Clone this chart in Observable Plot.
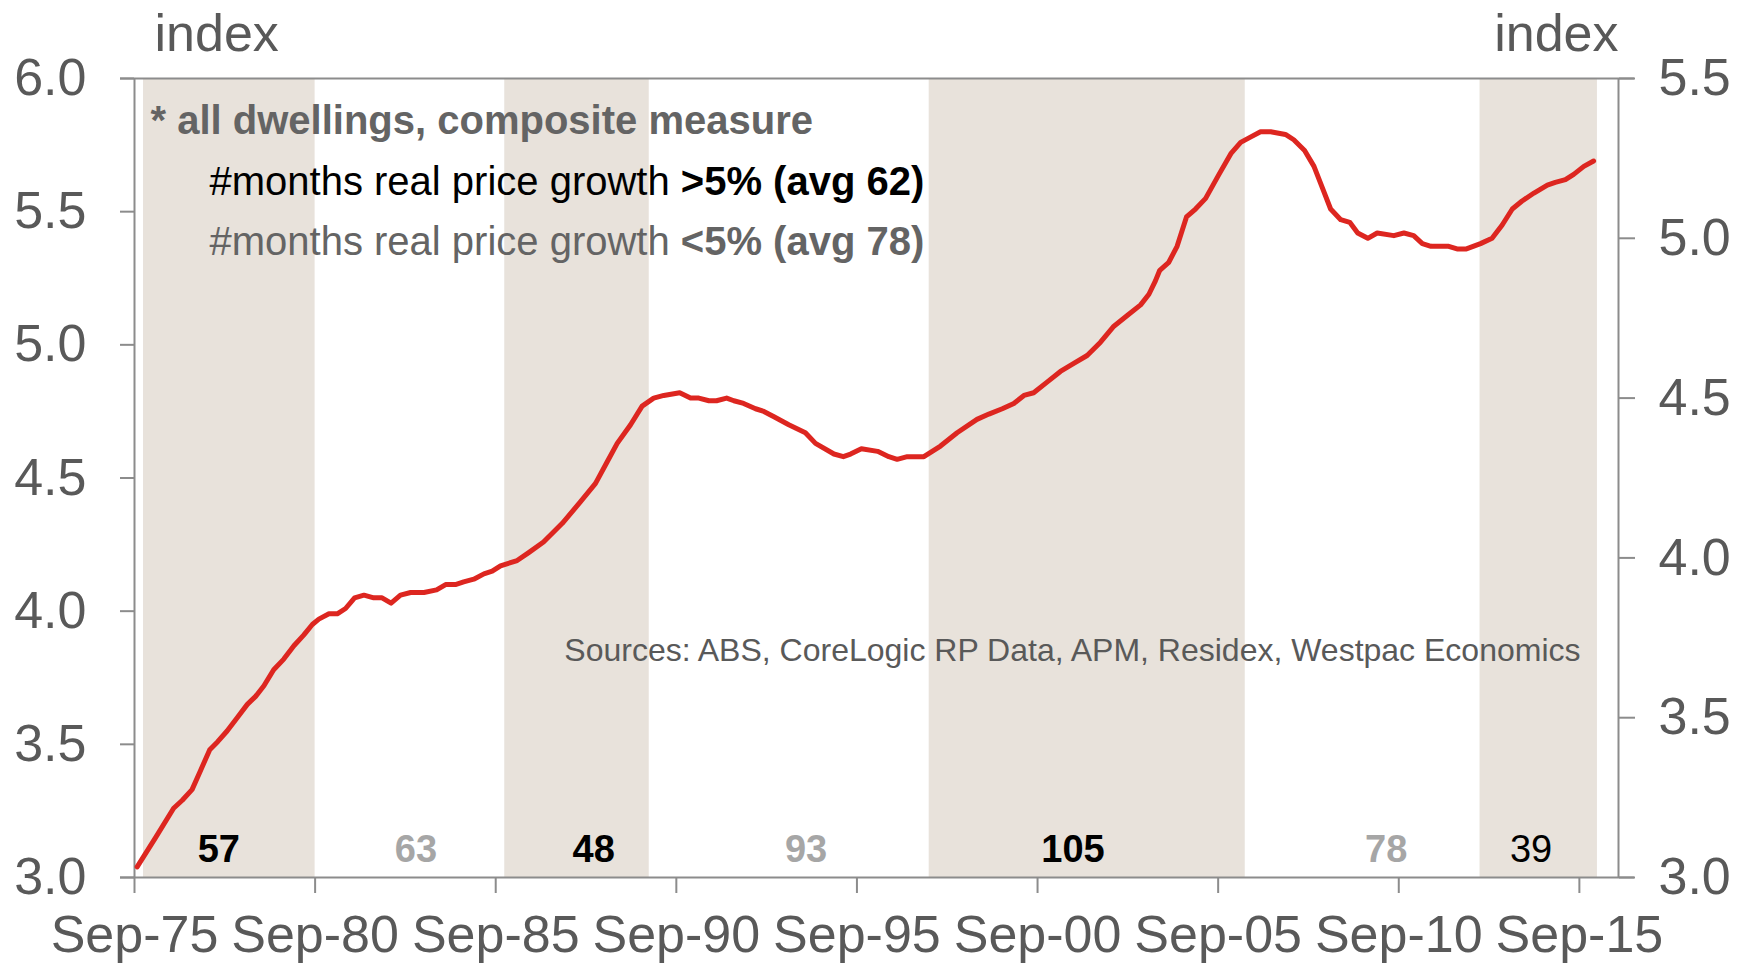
<!DOCTYPE html>
<html>
<head>
<meta charset="utf-8">
<script src="https://cdn.jsdelivr.net/npm/d3@7"></script>
<script src="https://cdn.jsdelivr.net/npm/@observablehq/plot@0.6"></script>
<style>
  html, body { margin: 0; padding: 0; background: #ffffff; }
  #chart svg { display: block; }
</style>
</head>
<body>
<div id="chart"></div>
<script>
// ---- Data (dates as decimal years) ----
const dates = [
  1975.74, 1976.25, 1976.75, 1976.99, 1977.26, 1977.49, 1977.75, 1977.97, 1978.23, 1978.51,
  1978.79, 1979.02, 1979.25, 1979.52, 1979.80, 1980.08, 1980.35, 1980.59, 1980.77, 1981.05,
  1981.28, 1981.51, 1981.76, 1982.02, 1982.29, 1982.52, 1982.77, 1983.03, 1983.31, 1983.68,
  1984.03, 1984.28, 1984.55, 1984.78, 1985.06, 1985.34, 1985.57, 1985.80, 1986.26, 1986.58,
  1986.99, 1987.51, 1988.01, 1988.43, 1988.75, 1989.03, 1989.40, 1989.72, 1990.04, 1990.32,
  1990.76, 1991.06, 1991.29, 1991.57, 1991.78, 1992.06, 1992.26, 1992.53, 1992.86, 1993.09,
  1993.37, 1993.78, 1994.24, 1994.52, 1995.03, 1995.29, 1995.49, 1995.79, 1996.24, 1996.55,
  1996.78, 1997.06, 1997.52, 1997.98, 1998.44, 1998.99, 1999.32, 1999.69, 2000.01, 2000.29,
  2000.56, 2000.93, 2001.30, 2001.67, 2002.04, 2002.41, 2002.78, 2003.15, 2003.52, 2003.75,
  2003.93, 2004.05, 2004.30, 2004.53, 2004.79, 2005.04, 2005.32, 2005.69, 2006.03, 2006.29,
  2006.56, 2006.84, 2007.12, 2007.53, 2007.76, 2008.06, 2008.32, 2008.55, 2008.78, 2009.06,
  2009.31, 2009.53, 2009.81, 2010.07, 2010.53, 2010.81, 2011.08, 2011.32, 2011.56, 2011.82,
  2012.05, 2012.28, 2012.54, 2012.93, 2013.25, 2013.53, 2013.81, 2014.08, 2014.41, 2014.78,
  2015.00, 2015.28, 2015.51, 2015.79, 2016.06
];
const values = [
  3.04, 3.15, 3.26, 3.29, 3.33, 3.40, 3.48, 3.51, 3.55, 3.60,
  3.65, 3.68, 3.72, 3.78, 3.82, 3.87, 3.91, 3.95, 3.97, 3.99,
  3.99, 4.01, 4.05, 4.06, 4.05, 4.05, 4.03, 4.06, 4.07, 4.07,
  4.08, 4.10, 4.10, 4.11, 4.12, 4.14, 4.15, 4.17, 4.19, 4.22,
  4.26, 4.33, 4.41, 4.48, 4.56, 4.63, 4.70, 4.77, 4.80, 4.81,
  4.82, 4.80, 4.80, 4.79, 4.79, 4.80, 4.79, 4.78, 4.76, 4.75,
  4.73, 4.70, 4.67, 4.63, 4.59, 4.58, 4.59, 4.61, 4.60, 4.58,
  4.57, 4.58, 4.58, 4.62, 4.67, 4.72, 4.74, 4.76, 4.78, 4.81,
  4.82, 4.86, 4.90, 4.93, 4.96, 5.01, 5.07, 5.11, 5.15, 5.19,
  5.24, 5.28, 5.31, 5.37, 5.48, 5.51, 5.55, 5.64, 5.72, 5.76,
  5.78, 5.80, 5.80, 5.79, 5.77, 5.73, 5.67, 5.59, 5.51, 5.47,
  5.46, 5.42, 5.40, 5.42, 5.41, 5.42, 5.41, 5.38, 5.37, 5.37,
  5.37, 5.36, 5.36, 5.38, 5.40, 5.45, 5.51, 5.54, 5.57, 5.60,
  5.61, 5.62, 5.64, 5.67, 5.69
];

// Shaded periods: real price growth > 5%
const bandStarts = [1975.917, 1985.917, 1997.667, 2012.917]; // Dec-75, Dec-85, Sep-97, Dec-12
const bandEnds   = [1980.667, 1989.917, 2006.417, 2016.167]; // Sep-80, Dec-89, Jun-06, Mar-16

// Period month counts
const periodCounts  = ["57", "63", "48", "93", "105", "78", "39"];
const periodCentres = [1978.0, 1983.46, 1988.38, 1994.26, 2001.65, 2010.32, 2014.33];
const periodHigh    = [true, false, true, false, true, false, true];
const periodBold    = [true, true, true, true, true, true, false];

// Axes
const xDomain = [1975.667, 2016.75];
const xTicks = [1975.667, 1980.667, 1985.667, 1990.667, 1995.667, 2000.667, 2005.667, 2010.667, 2015.667];
const xTickLabels = ["Sep-75", "Sep-80", "Sep-85", "Sep-90", "Sep-95", "Sep-00", "Sep-05", "Sep-10", "Sep-15"];
const leftDomain = [3, 6];
const leftTicks = [3, 3.5, 4, 4.5, 5, 5.5, 6];
const rightDomain = [3, 5.5];
const rightTicks = [3, 3.5, 4, 4.5, 5, 5.5];

// Texts
const axisTitle = "index";
const note1 = "* all dwellings, composite measure";
const note2a = "#months real price growth ";
const note2b = ">5% (avg 62)";
const note3a = "#months real price growth ";
const note3b = "<5% (avg 78)";
const sourceText = "Sources: ABS, CoreLogic RP Data, APM, Residex, Westpac Economics";

// ---- Build ----
const series = dates.map((d, i) => ({date: d, value: values[i]}));
const bands = bandStarts.map((s, i) => ({start: s, end: bandEnds[i]}));
const periods = periodCounts.map((c, i) => ({count: c, centre: periodCentres[i], high: periodHigh[i], bold: periodBold[i]}));
const tickLabel = new Map(xTicks.map((t, i) => [t, xTickLabels[i]]));
// right axis value -> left scale value
const toLeft = r => leftDomain[0] + (r - rightDomain[0]) * (leftDomain[1] - leftDomain[0]) / (rightDomain[1] - rightDomain[0]);
const toRight = v => rightDomain[0] + (v - leftDomain[0]) * (rightDomain[1] - rightDomain[0]) / (leftDomain[1] - leftDomain[0]);

const font = "'Liberation Sans', Arial, Helvetica, sans-serif";
const axisGrey = "#8c8c8c";
const textGrey = "#595959";
const noteGrey = "#646464";
const countGrey = "#a6a6a6";
const bandFill = "#e8e2db";
const lineRed = "#dd2620";

const noteSize = 40;
const ctx = document.createElement("canvas").getContext("2d");
ctx.font = `${noteSize}px ${font}`;
const w2 = ctx.measureText(note2a).width;
const w3 = ctx.measureText(note3a).width;

const chart = Plot.plot({
  width: 1752,
  height: 969,
  marginLeft: 134,
  marginRight: 134,
  marginTop: 78,
  marginBottom: 92,
  style: {fontFamily: font, background: "#ffffff", overflow: "visible"},
  x: {domain: xDomain},
  y: {domain: leftDomain},
  marks: [
    Plot.rect(bands, {x1: "start", x2: "end", fill: bandFill}),
    Plot.ruleY(leftDomain, {stroke: axisGrey, strokeWidth: 2, insetLeft: -14, insetRight: -16}),
    Plot.ruleX([xDomain[0]], {stroke: axisGrey, strokeWidth: 2}),
    Plot.ruleX([xDomain[1]], {stroke: axisGrey, strokeWidth: 2}),
    Plot.axisY(leftTicks, {anchor: "left", label: null, tickSize: 14, tickPadding: 34, fontSize: 52,
      stroke: axisGrey, strokeWidth: 2, fill: textGrey, tickFormat: d => d.toFixed(1)}),
    Plot.axisY(rightTicks.map(toLeft), {anchor: "right", label: null, tickSize: 16, tickPadding: 24, fontSize: 52,
      stroke: axisGrey, strokeWidth: 2, fill: textGrey, tickFormat: d => toRight(d).toFixed(1)}),
    Plot.axisX(xTicks, {anchor: "bottom", label: null, tickSize: 16, tickPadding: 22, fontSize: 52,
      stroke: axisGrey, strokeWidth: 2, fill: textGrey, tickFormat: d => tickLabel.get(d)}),
    Plot.line(series, {x: "date", y: "value", stroke: lineRed, strokeWidth: 5, strokeLinejoin: "round", strokeLinecap: "round"}),
    // counts
    Plot.text(periods.filter(p => p.bold), {x: "centre", text: "count", frameAnchor: "bottom", dy: -28, lineAnchor: "middle",
      fontSize: 38, fontWeight: "bold", fill: d => d.high ? "#000000" : countGrey}),
    Plot.text(periods.filter(p => !p.bold), {x: "centre", text: "count", frameAnchor: "bottom", dy: -28, lineAnchor: "middle",
      fontSize: 38, fill: "#000000"}),
    // axis titles
    Plot.text([axisTitle], {text: d => d, frameAnchor: "top-left", dx: 20, dy: -28, lineAnchor: "bottom", textAnchor: "start", fontSize: 52, fill: textGrey}),
    Plot.text([axisTitle], {text: d => d, frameAnchor: "top-right", dx: 0, dy: -28, lineAnchor: "bottom", textAnchor: "end", fontSize: 52, fill: textGrey}),
    // notes
    Plot.text([note1], {text: d => d, frameAnchor: "top-left", dx: 16, dy: 43, lineAnchor: "middle", textAnchor: "start", fontSize: noteSize, fontWeight: "bold", fill: noteGrey}),
    Plot.text([note2a], {text: d => d, frameAnchor: "top-left", dx: 75, dy: 104, lineAnchor: "middle", textAnchor: "start", fontSize: noteSize, fill: "#000000"}),
    Plot.text([note2b], {text: d => d, frameAnchor: "top-left", dx: 75 + w2, dy: 104, lineAnchor: "middle", textAnchor: "start", fontSize: noteSize, fontWeight: "bold", fill: "#000000"}),
    Plot.text([note3a], {text: d => d, frameAnchor: "top-left", dx: 75, dy: 164, lineAnchor: "middle", textAnchor: "start", fontSize: noteSize, fill: noteGrey}),
    Plot.text([note3b], {text: d => d, frameAnchor: "top-left", dx: 75 + w3, dy: 164, lineAnchor: "middle", textAnchor: "start", fontSize: noteSize, fontWeight: "bold", fill: noteGrey}),
    Plot.text([sourceText], {text: d => d, frameAnchor: "top-right", dx: -38, dy: 572, lineAnchor: "middle", textAnchor: "end", fontSize: 32, fill: textGrey})
  ]
});
document.getElementById("chart").appendChild(chart);
</script>
</body>
</html>
